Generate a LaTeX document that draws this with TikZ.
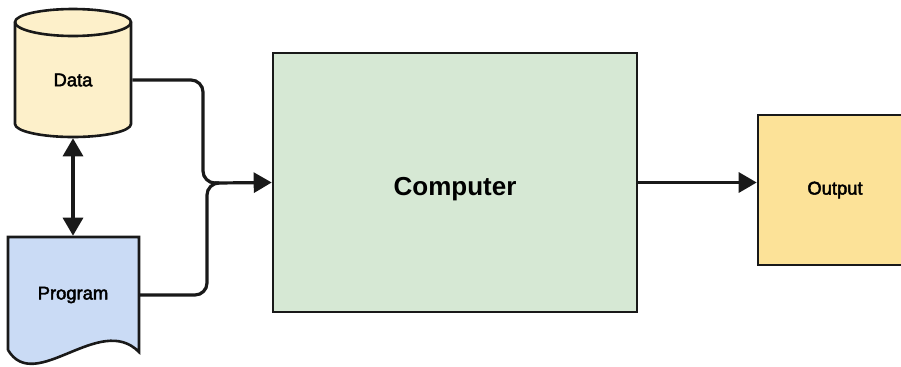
\documentclass[tikz,border=0pt]{standalone}
\usepackage{fontspec}
\setmainfont{Liberation Sans}
\newfontfamily\medfont[FakeBold=2.5]{Liberation Sans}
\usetikzlibrary{arrows.meta}

\definecolor{datafill}{RGB}{253,240,202}
\definecolor{progfill}{RGB}{202,219,245}
\definecolor{compfill}{RGB}{214,232,212}
\definecolor{outfill}{RGB}{252,226,152}
\definecolor{ink}{RGB}{25,25,25}

\begin{document}
\begin{tikzpicture}[x=0.5pt,y=-0.5pt,line width=1.3pt,draw=ink,
    label/.style={inner sep=0pt,font=\medfont\fontsize{9.2}{11}\selectfont},
    box/.style={draw=ink,line width=1.3pt,inner sep=0pt},
    wire/.style={draw=ink,line width=1.6pt,rounded corners=6pt},
    tip/.style={-{Triangle[length=9pt,width=10pt]}}]
    \path[use as bounding box,clip] (0,0) rectangle (901,366);

    % Data store
    \filldraw[fill=datafill,draw=ink] (15,22) -- (15,124)
        arc[start angle=180,end angle=0,x radius=58,y radius=13] -- (131,22)
        arc[start angle=0,end angle=-180,x radius=58,y radius=13] -- cycle;
    \draw[draw=ink] (15,22) arc[start angle=180,end angle=0,x radius=58,y radius=14];
    \node[label,minimum width=58pt,minimum height=57pt] (data) at (73,80) {Data};

    % Program sheet
    \filldraw[fill=progfill,draw=ink] (8,350) -- (8,237) -- (139,237) -- (139,352)
        .. controls (100,312) and (35,395) .. (8,350);
    \node[label,minimum width=65.5pt,minimum height=58pt] (program) at (73,295) {Program};

    % Boxes
    \node[box,fill=compfill,minimum width=182pt,minimum height=129.5pt,
        text height=13.4pt,text depth=0pt,
        font=\bfseries\fontsize{13}{15}\selectfont] (computer) at (455,182.5) {Computer};
    \node[box,fill=outfill,minimum width=77pt,minimum height=75pt,
        font=\medfont\fontsize{9.2}{11}\selectfont] (output) at (835,190) {Output};

    % Connectors
    \coordinate (join) at (215,183);
    \draw[wire] (data.east) -| ([xshift=-6pt]join) -- (join);
    \draw[wire] (program.east) -| ([xshift=-4pt]join) -- (join);
    \draw[wire,tip] (join) -- (computer.west);
    \draw[wire,tip] (computer.east) -- (computer.east -| output.west);
    \draw[wire,{Triangle[length=9pt,width=10pt]}-{Triangle[length=9pt,width=10pt]}]
        (data.south) -- (program.north);
\end{tikzpicture}
\end{document}
